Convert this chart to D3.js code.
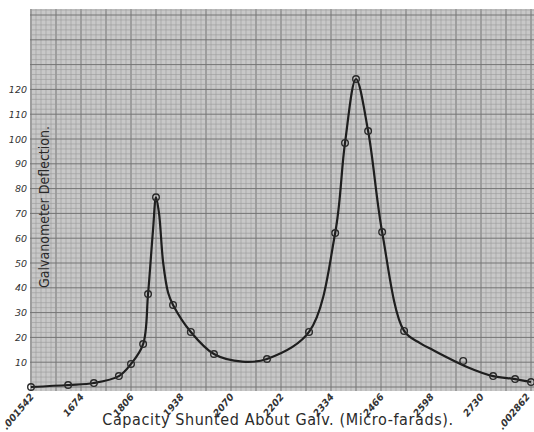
<!DOCTYPE html>
<html><head><meta charset="utf-8">
<script src="https://cdn.jsdelivr.net/npm/d3@7"></script>
<style>body{margin:0;background:#fff}svg{display:block}</style>
</head><body>
<script>
// Data
const xTickValues = [1542,1674,1806,1938,2070,2202,2334,2466,2598,2730,2862];
const xTickLabels = [".001542","1674","1806","1938","2070","2202","2334","2466","2598","2730",".002862"];
const yTickValues = [10,20,30,40,50,60,70,80,90,100,110,120];
// smooth curve drawn through the readings (capacity, deflection)
const curveCap = [1542,1640,1708,1774,1806,1838,1851,1864,1872,1880,1891,1904,1917,1964,2025,2100,2165,2276,2345,2371,2400,2432,2469,2527,2569,2603,2693,2762,2820,2862];
const curveDef = [0,0.8,1.6,4.4,9.3,17.3,37.5,63,76.5,70,50,38,33.1,22.2,13.3,10.2,11.3,22.2,62.1,98.4,124.2,103.2,62.5,22.6,17.7,14.9,8.1,4.4,3.2,2.0];
// observed points (circles)
const obsCap = [1542,1640,1708,1774,1806,1838,1851,1872,1917,1964,2025,2165,2276,2345,2371,2400,2432,2469,2527,2683,2762,2820,2862];
const obsDef = [0,0.8,1.6,4.4,9.3,17.3,37.5,76.5,33.1,22.2,13.3,11.3,22.2,62.1,98.4,124.2,103.2,62.5,22.6,10.5,4.4,3.2,2.0];
const xTitle = "Capacity Shunted About Galv. (Micro-farads).";
const yTitle = "Galvanometer Deflection.";

const W = 534, H = 432;
const svg = d3.select("body").append("svg").attr("width", W).attr("height", H);
const x = d3.scaleLinear().domain([1542, 2862]).range([31, 531]);
const y = d3.scaleLinear().domain([0, 120]).range([387, 89.4]);

const gx0 = 30, gx1 = 534, gy0 = 9, gy1 = 391;
svg.append("rect").attr("x", gx0).attr("y", gy0).attr("width", gx1 - gx0).attr("height", gy1 - gy0).attr("fill", "#c8c8c8");

const grid = svg.append("g");
const xStep = 13.2;
const xMinorVals = d3.range(-1, 110).map(i => ({v: 1542 + i * xStep, major: i % 5 === 0}))
  .filter(d => x(d.v) >= gx0 && x(d.v) <= gx1);
grid.selectAll("line.vx").data(xMinorVals).join("line")
  .attr("x1", d => x(d.v)).attr("x2", d => x(d.v)).attr("y1", gy0).attr("y2", gy1)
  .attr("stroke", d => d.major ? "#747474" : "#9a9a9a").attr("stroke-width", d => d.major ? 1 : 0.6);
const yMinorVals = d3.range(0, 80).map(i => ({v: i * 2, major: i % 5 === 0}))
  .filter(d => y(d.v) >= gy0 && y(d.v) <= gy1);
grid.selectAll("line.hy").data(yMinorVals).join("line")
  .attr("x1", gx0).attr("x2", gx1).attr("y1", d => y(d.v)).attr("y2", d => y(d.v))
  .attr("stroke", d => d.major ? "#747474" : "#9a9a9a").attr("stroke-width", d => d.major ? 1 : 0.6);

// y tick labels
const yAxis = d3.axisLeft(y).tickValues(yTickValues).tickSize(0).tickPadding(3);
const gy = svg.append("g").attr("transform", `translate(${gx0},0)`).call(yAxis);
gy.select(".domain").remove();
gy.selectAll("text").attr("font-family", "DejaVu Sans").attr("font-style", "italic")
  .attr("font-size", 9.5).attr("fill", "#333");

// x tick labels
const xAxis = d3.axisBottom(x).tickValues(xTickValues).tickFormat((d, i) => xTickLabels[i]).tickSize(0);
const gxAx = svg.append("g").attr("transform", `translate(0,${gy1})`).call(xAxis);
gxAx.select(".domain").remove();
gxAx.selectAll("text").attr("font-family", "DejaVu Sans").attr("font-style", "italic").attr("font-weight", "bold")
  .attr("font-size", 9.5).attr("fill", "#333")
  .attr("text-anchor", "end").attr("dy", 0).attr("y", 0)
  .attr("transform", (d, i) => `translate(${i === xTickValues.length - 1 ? -1 : 3},6) rotate(-50)`);

// curve
const pts = curveCap.map((c, i) => [c, curveDef[i]]);
const line = d3.line().x(d => x(d[0])).y(d => y(d[1])).curve(d3.curveCatmullRom.alpha(0.5));
svg.append("path").datum(pts).attr("d", line).attr("fill", "none").attr("stroke", "#1e1e1e").attr("stroke-width", 2.2);

// observation circles
const obs = obsCap.map((c, i) => [c, obsDef[i]]);
svg.append("g").selectAll("circle").data(obs).join("circle")
  .attr("cx", d => x(d[0])).attr("cy", d => y(d[1])).attr("r", 3.3)
  .attr("fill", "none").attr("stroke", "#2a2a2a").attr("stroke-width", 1.4);

// titles
svg.append("text").attr("x", 278).attr("y", 425).attr("text-anchor", "middle")
  .attr("font-family", "DejaVu Sans Condensed, DejaVu Sans").attr("font-size", 16).attr("fill", "#2a2a2a")
  .attr("letter-spacing", 0.6).text(xTitle);
svg.append("text").attr("transform", "translate(49,207) rotate(-90)").attr("text-anchor", "middle")
  .attr("font-family", "DejaVu Sans Condensed, DejaVu Sans").attr("font-size", 14).attr("fill", "#2a2a2a")
  .text(yTitle);
</script>
</body></html>
